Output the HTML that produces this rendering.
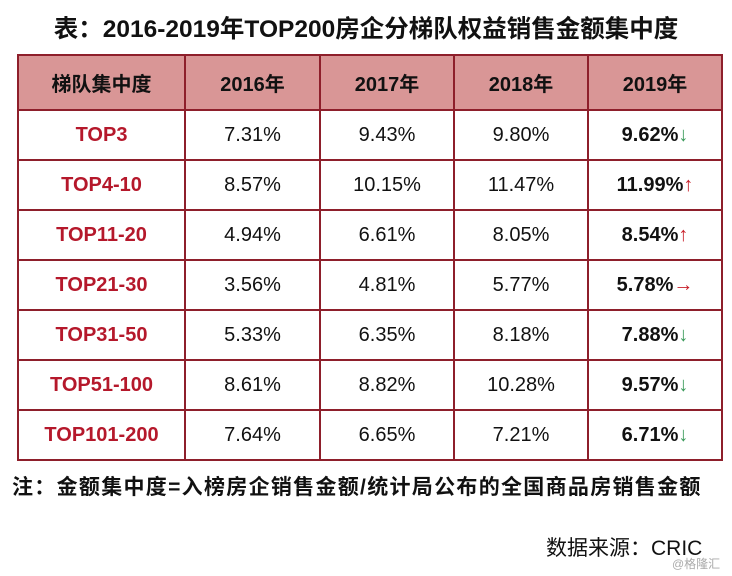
<!DOCTYPE html>
<html><head><meta charset="utf-8">
<style>
body{margin:0;width:732px;height:576px;background:#fff;font-family:"Liberation Sans","Noto Sans CJK SC",sans-serif;position:relative;overflow:hidden}
.title{position:absolute;top:10px;left:0;width:732px;text-align:center;font-size:24.5px;font-weight:bold;color:#111}
table{position:absolute;left:17px;top:54px;border-collapse:collapse;table-layout:fixed}
td,th{border:2px solid #8e1f2b;text-align:center;font-size:20px;color:#111;height:48px;padding:0}
th{background:#d99696;font-weight:bold;height:53px}
td.l{color:#b5182b;font-weight:bold}
td.b{font-weight:bold}
.dn{color:#3a9a5a;font-weight:normal}
.up{color:#c8202a;font-weight:normal}
.note{position:absolute;top:471px;left:12px;font-size:21px;font-weight:bold;color:#111;letter-spacing:1.3px}
.src{position:absolute;top:532px;left:546px;font-size:21px;color:#111}
.wm{position:absolute;top:555px;left:672px;font-size:12px;color:#aaa}
</style></head><body>
<div class="title">表：2016-2019年TOP200房企分梯队权益销售金额集中度</div>
<table>
<colgroup><col style="width:167px"><col style="width:135px"><col style="width:134px"><col style="width:134px"><col style="width:134px"></colgroup>
<tr><th>梯队集中度</th><th>2016年</th><th>2017年</th><th>2018年</th><th>2019年</th></tr>
<tr><td class="l">TOP3</td><td>7.31%</td><td>9.43%</td><td>9.80%</td><td class="b">9.62%<span class="dn">↓</span></td></tr>
<tr><td class="l">TOP4-10</td><td>8.57%</td><td>10.15%</td><td>11.47%</td><td class="b">11.99%<span class="up">↑</span></td></tr>
<tr><td class="l">TOP11-20</td><td>4.94%</td><td>6.61%</td><td>8.05%</td><td class="b">8.54%<span class="up">↑</span></td></tr>
<tr><td class="l">TOP21-30</td><td>3.56%</td><td>4.81%</td><td>5.77%</td><td class="b">5.78%<span class="up">→</span></td></tr>
<tr><td class="l">TOP31-50</td><td>5.33%</td><td>6.35%</td><td>8.18%</td><td class="b">7.88%<span class="dn">↓</span></td></tr>
<tr><td class="l">TOP51-100</td><td>8.61%</td><td>8.82%</td><td>10.28%</td><td class="b">9.57%<span class="dn">↓</span></td></tr>
<tr><td class="l">TOP101-200</td><td>7.64%</td><td>6.65%</td><td>7.21%</td><td class="b">6.71%<span class="dn">↓</span></td></tr>
</table>
<div class="note">注：金额集中度=入榜房企销售金额/统计局公布的全国商品房销售金额</div>
<div class="src">数据来源：CRIC</div>
<div class="wm">@格隆汇</div>
</body></html>
